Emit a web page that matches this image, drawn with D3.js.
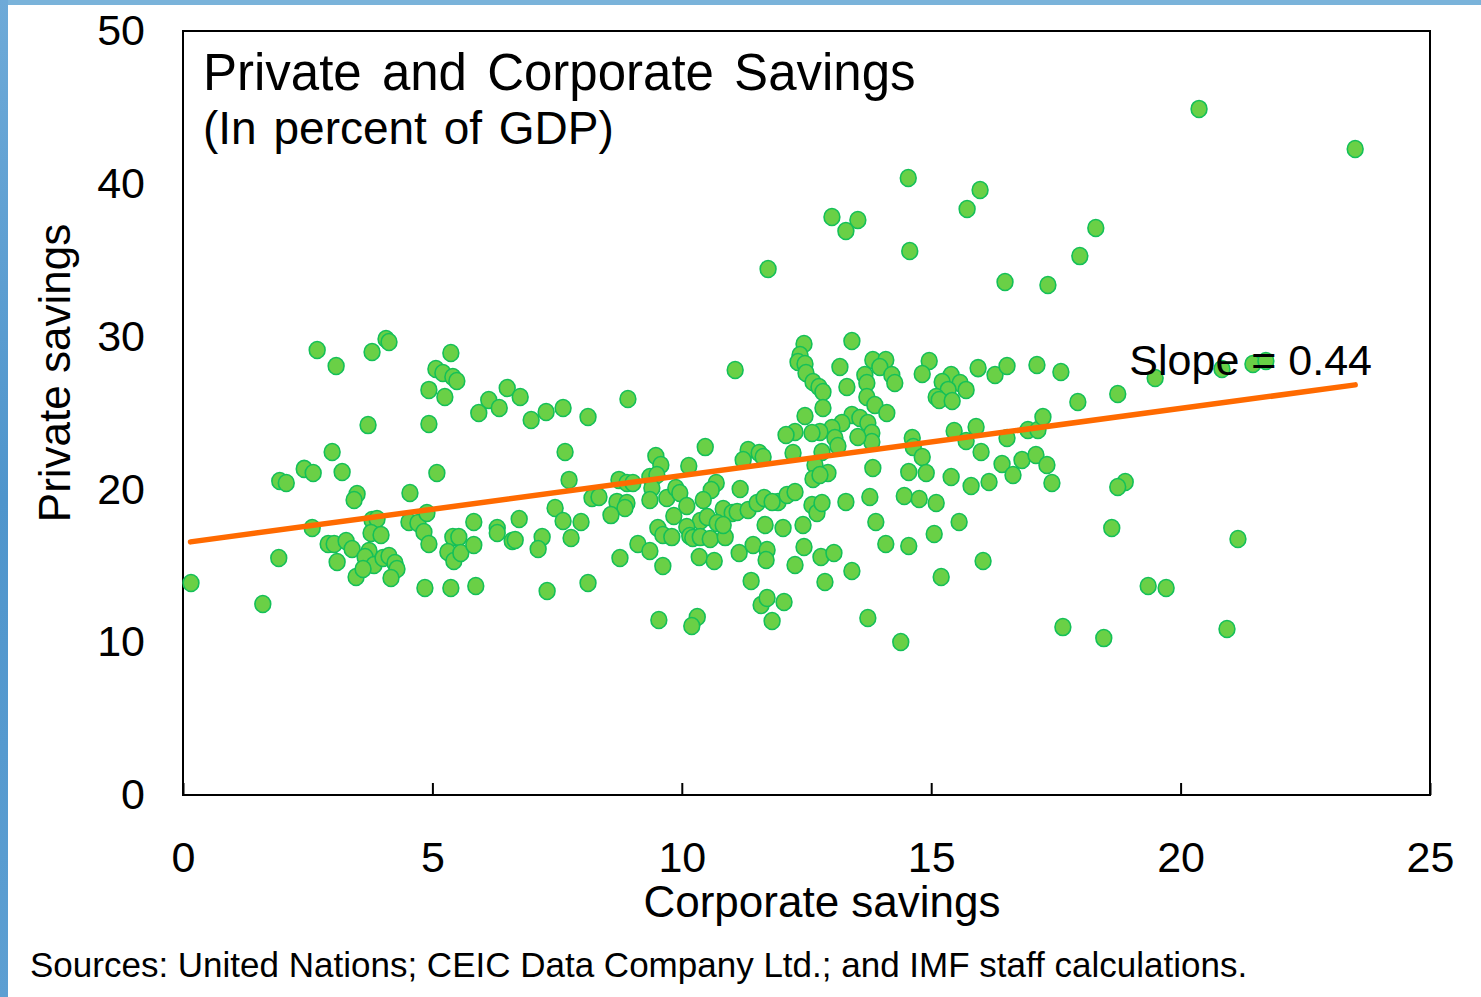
<!DOCTYPE html>
<html>
<head>
<meta charset="utf-8">
<script src="https://cdn.jsdelivr.net/npm/d3@7"></script>
<style>
  body { margin: 0; background: #fff; }
  svg { display: block; font-family: "Liberation Sans", Arial, sans-serif; }
</style>
</head>
<body>
<svg id="chart" width="1481" height="997"></svg>
<script>
'use strict';

// corporate savings (x), one entry per country-year, same order as privateSavings
const corporateSavings = [
  0.16,1.60,1.92,1.94,2.07,2.43,2.61,2.69,2.59,2.99,
  3.07,3.19,2.91,3.03,3.27,3.39,3.09,3.47,3.49,3.43,
  3.73,3.65,3.83,3.61,3.79,4.07,4.13,3.71,3.79,3.89,
  3.77,3.97,4.01,4.13,4.25,4.29,4.17,4.55,4.53,4.71,
  4.83,4.89,4.93,4.85,4.93,4.93,5.07,5.21,5.37,5.41,
  5.49,5.09,5.25,5.41,5.53,5.31,5.43,5.57,5.37,5.83,
  5.83,5.87,5.93,6.50,6.13,6.34,6.76,6.98,7.28,7.62,
  8.12,8.92,7.66,7.74,8.74,8.90,9.02,9.48,9.58,9.36,
  9.50,10.14,10.47,11.33,11.23,11.55,11.63,10.69,10.59,10.43,
  11.17,9.40,9.36,9.70,9.88,9.96,8.20,8.34,8.70,8.90,
  8.86,8.58,7.46,7.62,7.98,7.78,6.74,6.30,6.30,6.60,
  6.66,7.20,7.12,9.84,10.10,10.37,10.51,10.83,11.01,11.11,
  11.33,11.51,11.65,11.67,10.10,10.16,10.22,10.37,10.57,10.87,
  10.71,10.83,9.52,9.62,9.80,9.12,9.36,8.76,9.62,10.35,
  10.65,11.15,11.43,11.71,11.69,7.30,8.12,11.39,11.59,11.71,
  12.05,11.81,11.07,9.54,10.31,10.20,12.45,13.41,12.37,12.33,
  12.47,12.49,13.17,13.31,13.83,14.09,13.97,14.21,14.27,13.67,
  13.71,13.71,13.87,14.11,12.63,12.75,12.83,12.83,12.47,14.96,
  14.82,15.40,15.22,15.58,15.70,15.34,15.10,15.16,15.42,15.94,
  16.28,16.52,17.12,17.60,13.41,13.57,13.73,13.21,13.01,12.77,
  12.61,12.27,12.09,13.81,13.81,13.53,13.07,13.13,12.81,12.67,
  12.63,12.93,12.77,12.23,14.62,14.64,14.82,15.46,15.70,15.90,
  16.00,16.52,16.94,17.14,17.24,16.42,16.64,16.82,17.10,17.32,
  17.42,13.83,14.55,14.90,15.40,15.80,16.16,11.93,12.11,12.27,
  11.81,12.61,12.71,12.81,13.29,13.77,14.46,14.76,15.10,12.03,
  12.43,13.89,15.56,15.06,12.45,12.79,13.05,12.27,13.41,12.87,
  14.09,14.55,16.04,15.20,13.73,14.39,17.94,18.74,19.49,20.83,
  21.45,21.71,18.89,18.74,18.62,21.15,19.35,19.71,17.64,18.46,
  20.93,14.54,15.98,15.72,13.01,13.53,13.29,18.30,17.98,14.57,
  11.73,16.48,17.34,20.37,23.50
];

// private savings (y)
const privateSavings = [
  13.87,12.50,15.51,20.55,20.42,21.34,21.07,29.12,17.47,22.45,
  28.08,21.14,16.43,16.43,16.62,16.10,15.25,14.27,19.70,19.31,
  15.97,15.58,15.05,14.79,28.99,29.84,29.65,24.21,18.00,18.06,
  17.15,17.02,15.51,15.64,15.18,14.79,14.20,19.76,17.87,17.80,
  17.21,18.46,16.43,13.55,26.51,24.28,27.88,27.62,28.93,27.36,
  27.09,21.07,26.05,16.88,16.88,15.90,15.31,15.84,13.55,17.87,
  16.36,13.68,25.00,26.64,25.85,25.33,26.05,24.54,25.07,25.33,
  24.74,25.92,22.45,20.62,20.62,20.42,20.42,22.19,21.60,20.81,
  20.94,21.53,22.77,22.58,21.92,22.38,22.12,20.42,19.96,19.31,
  20.03,20.09,19.31,19.44,20.09,19.76,19.44,19.50,19.18,19.11,
  18.78,18.32,18.78,17.93,17.87,16.82,18.06,17.47,17.15,16.62,
  16.69,16.88,16.10,18.26,18.91,17.93,18.19,18.72,18.46,18.52,
  18.65,19.11,19.44,17.67,17.54,16.95,16.82,16.88,16.75,16.88,
  17.80,17.67,17.47,17.02,16.88,16.43,15.97,15.51,14.99,15.58,
  15.31,15.84,16.36,16.03,15.38,13.35,13.87,14.01,12.43,12.89,
  12.63,11.39,27.81,11.45,11.65,11.06,29.52,29.71,28.80,28.34,
  28.21,27.62,28.01,26.70,28.47,28.47,28.01,27.49,26.96,27.49,
  26.96,26.05,25.52,25.00,27.03,26.70,26.37,25.33,24.80,28.40,
  27.55,27.49,27.03,26.96,26.51,26.51,26.05,25.85,25.79,27.94,
  27.49,28.08,28.14,27.68,24.87,24.67,24.35,24.35,24.02,23.76,
  23.69,23.76,23.56,23.69,23.10,23.43,23.36,22.84,22.45,21.60,
  20.68,21.07,20.94,22.38,23.36,22.77,22.12,23.82,23.17,24.08,
  22.45,23.36,23.89,23.89,24.74,21.66,20.94,21.92,22.25,21.60,
  20.42,21.40,21.14,21.07,20.81,20.22,20.48,19.18,19.63,19.83,
  19.18,18.98,18.46,19.11,19.18,19.50,19.57,19.37,19.11,17.47,
  17.67,17.87,17.87,17.08,16.23,15.58,15.84,15.05,14.66,13.94,
  16.43,16.30,15.31,14.27,11.58,10.01,25.72,26.24,27.29,27.88,
  28.21,28.40,20.48,20.16,17.47,16.75,13.68,13.55,10.99,10.27,
  10.86,40.38,39.59,38.35,37.83,37.63,36.91,37.11,35.27,35.60,
  34.42,33.57,33.38,44.90,42.28
];

const xTicks = [0, 5, 10, 15, 20, 25];
const yTicks = [0, 10, 20, 30, 40, 50];

// fitted line: private = intercept + slope * corporate
const fitSlope = 0.44;
const fitIntercept = 16.5;
const fitRange = [0.15, 23.5];

const svg = d3.select('#chart');
const plot = {left: 183, right: 1430, top: 31, bottom: 795};

const x = d3.scaleLinear().domain([0, 25]).range([plot.left, plot.right]);
const y = d3.scaleLinear().domain([0, 50]).range([plot.bottom, plot.top]);

// blue frame strips on the slide edge
const defs = svg.append('defs');
const grad = defs.append('linearGradient').attr('id', 'edge')
    .attr('x1', 0).attr('y1', 0).attr('x2', 0).attr('y2', 1);
grad.append('stop').attr('offset', '0%').attr('stop-color', '#6eaad8');
grad.append('stop').attr('offset', '50%').attr('stop-color', '#4f95cc');
grad.append('stop').attr('offset', '100%').attr('stop-color', '#5d9fd2');
svg.append('rect').attr('x', 0).attr('y', 0).attr('width', 1481).attr('height', 5).attr('fill', '#7ab3da');
svg.append('rect').attr('x', 0).attr('y', 0).attr('width', 8).attr('height', 997).attr('fill', 'url(#edge)');

// axes
const xAxis = d3.axisBottom(x).tickValues(xTicks).tickSizeInner(-12).tickSizeOuter(0).tickPadding(46);
const yAxis = d3.axisLeft(y).tickValues(yTicks).tickSize(0).tickPadding(38);

const gx = svg.append('g').attr('transform', `translate(0,${plot.bottom})`).call(xAxis);
const gy = svg.append('g').attr('transform', `translate(${plot.left},0)`).call(yAxis);

[gx, gy].forEach(g => {
    g.select('.domain').remove();
    g.selectAll('line').attr('stroke', '#000').attr('stroke-width', 2);
    g.selectAll('text').attr('font-size', 43).attr('fill', '#000')
        .attr('font-family', '"Liberation Sans", Arial, sans-serif');
});

// plot frame
svg.append('rect')
    .attr('x', plot.left).attr('y', plot.top)
    .attr('width', plot.right - plot.left).attr('height', plot.bottom - plot.top)
    .attr('fill', 'none').attr('stroke', '#000').attr('stroke-width', 2);

// points
const pts = corporateSavings.map((c, i) => ({c: c, p: privateSavings[i]}));
svg.append('g').selectAll('ellipse')
    .data(pts)
    .enter()
    .append('ellipse')
    .attr('cx', d => x(d.c))
    .attr('cy', d => y(d.p))
    .attr('rx', 7.9)
    .attr('ry', 8.5)
    .attr('fill', '#6ad046')
    .attr('stroke', '#14c058')
    .attr('stroke-width', 1.6);

// regression line
const line = d3.line().x(d => x(d)).y(d => y(fitIntercept + fitSlope * d));
svg.append('path')
    .datum(fitRange)
    .attr('d', line)
    .attr('fill', 'none')
    .attr('stroke', '#ff6a00')
    .attr('stroke-width', 5.5)
    .attr('stroke-linecap', 'round');

svg.append('text')
    .attr('x', 1372).attr('y', 375)
    .attr('text-anchor', 'end')
    .attr('font-size', 43)
    .text('Slope = 0.44');

// titles
svg.append('text').attr('x', 203).attr('y', 90)
    .attr('font-size', 51).attr('word-spacing', 6)
    .text('Private and Corporate Savings');
svg.append('text').attr('x', 203).attr('y', 144)
    .attr('font-size', 46).attr('word-spacing', 4)
    .text('(In percent of GDP)');

svg.append('text')
    .attr('transform', 'translate(70,373) rotate(-90)')
    .attr('text-anchor', 'middle')
    .attr('font-size', 44)
    .text('Private savings');

svg.append('text')
    .attr('x', 822).attr('y', 917)
    .attr('text-anchor', 'middle')
    .attr('font-size', 44)
    .text('Corporate savings');

svg.append('text')
    .attr('x', 30).attr('y', 977)
    .attr('font-size', 35)
    .text('Sources: United Nations; CEIC Data Company Ltd.; and IMF staff calculations.');
</script>
</body>
</html>
